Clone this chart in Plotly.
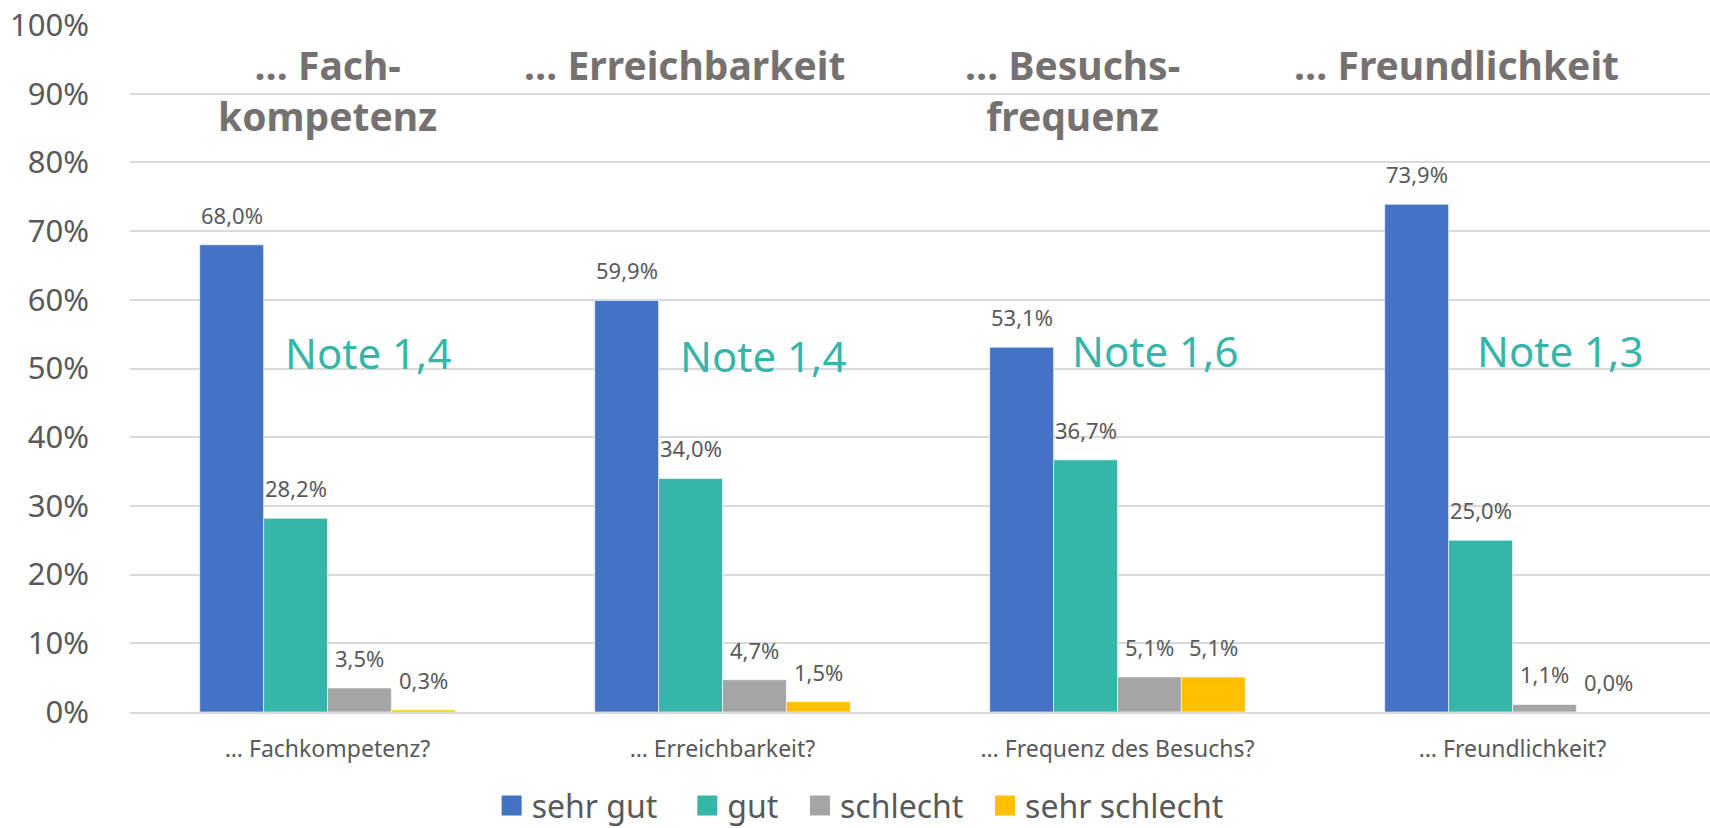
import plotly.graph_objects as go

categories = ["… Fachkompetenz?", "… Erreichbarkeit?", "… Frequenz des Besuchs?", "… Freundlichkeit?"]
series_names = ["sehr gut", "gut", "schlecht", "sehr schlecht"]
sehr_gut = [68.0, 59.9, 53.1, 73.9]
gut = [28.2, 34.0, 36.7, 25.0]
schlecht = [3.5, 4.7, 5.1, 1.1]
sehr_schlecht = [0.3, 1.5, 5.1, 0.0]
group_titles = ["… Fach-<br>kompetenz", "… Erreichbarkeit", "… Besuchs-<br>frequenz", "… Freundlichkeit"]
notes = ["Note 1,4", "Note 1,4", "Note 1,6", "Note 1,3"]

colors = ["#4472C4", "#36B5A9", "#A5A5A5", "#FFC000"]
FONT = "Noto Sans"

W, H = 1710, 828
ML, MR, MT, MB = 130, 0, 25, 116
BARGAP = 0.353
plot_w = W - ML - MR
bar_px = plot_w / len(categories) * (1 - BARGAP) / len(series_names)

all_series = [sehr_gut, gut, schlecht, sehr_schlecht]
fig = go.Figure()
for name, vals, col in zip(series_names, all_series, colors):
    fig.add_trace(go.Bar(
        x=categories, y=vals, name=name, showlegend=False,
        marker=dict(color=col, line=dict(color="white", width=0.6)),
    ))
# legend entries with larger square symbols (trailing spaces = legend spacing)
NB = "\u00a0"
legend_pad = [NB * 3, NB * 2, NB * 2, ""]
for name, col, pad in zip(series_names, colors, legend_pad):
    fig.add_trace(go.Scatter(
        x=[None], y=[None], mode="markers", name=name + pad,
        marker=dict(symbol="square", size=20, color=col, line=dict(color=col, width=4)),
    ))

# data labels
for k, vals in enumerate(all_series):
    for cat, v in zip(categories, vals):
        fig.add_annotation(x=cat, y=v, xref="x", yref="y",
                           text=f"{v:.1f}%".replace(".", ","), showarrow=False,
                           xanchor="center", yanchor="bottom",
                           xshift=(k - 1.5) * bar_px, yshift=13,
                           font=dict(family=FONT, size=22, color="#595959"))

# annotation placement (layout only)
title_pos = [(0.0, 90.6), (0.904, 94.3), (1.887, 90.6), (2.859, 94.3)]
note_pos = [(0.103, 52.4), (1.102, 51.9), (2.095, 52.6), (3.12, 52.6)]

for t, (x, y) in zip(group_titles, title_pos):
    fig.add_annotation(x=x, y=y, xref="x", yref="y", text=f"<b>{t}</b>", showarrow=False,
                       font=dict(family=FONT, size=39, color="#767171"),
                       xanchor="center", yanchor="middle")
for t, (x, y) in zip(notes, note_pos):
    fig.add_annotation(x=x, y=y, xref="x", yref="y", text=t, showarrow=False,
                       font=dict(family=FONT, size=42, color="#36B5A9"),
                       xanchor="center", yanchor="middle")

fig.update_layout(
    width=W, height=H,
    margin=dict(l=ML, r=MR, t=MT, b=MB, autoexpand=False),
    paper_bgcolor="white", plot_bgcolor="white",
    barmode="group", bargap=BARGAP, bargroupgap=0,
    font=dict(family=FONT, color="#595959"),
    showlegend=True,
    legend=dict(orientation="h", xref="container", yref="container",
                x=0.503, xanchor="center", y=0.027, yanchor="middle",
                font=dict(family=FONT, size=32, color="#595959"),
                itemwidth=30, traceorder="normal", itemsizing="trace"),
)
fig.update_yaxes(range=[0, 100], tick0=0, dtick=10, ticksuffix="%",
                 showgrid=True, gridcolor="#D9D9D9", gridwidth=1.5,
                 zeroline=False, showline=False,
                 tickfont=dict(family=FONT, size=31, color="#595959"),
                 ticklabelstandoff=40)
fig.update_xaxes(showline=True, linecolor="#D9D9D9", linewidth=1.5,
                 tickfont=dict(family=FONT, size=23, color="#595959"),
                 ticklabelstandoff=16)

fig.write_html("out.html", config={"displayModeBar": False},
               post_script="document.body.style.margin='0';document.body.style.overflow='hidden';")
